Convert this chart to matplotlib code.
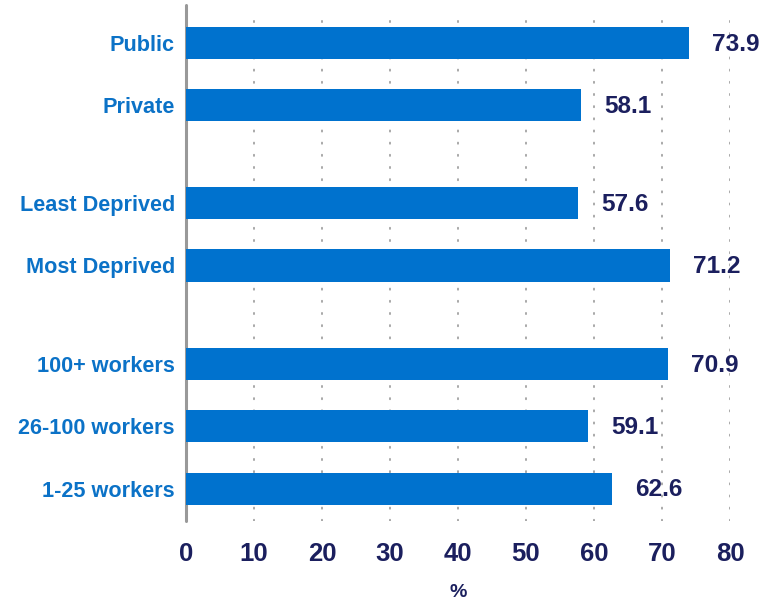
import matplotlib
matplotlib.use('Agg')
import matplotlib.pyplot as plt

categories = ['Public', 'Private', 'Least Deprived', 'Most Deprived',
              '100+ workers', '26-100 workers', '1-25 workers']
values = [73.9, 58.1, 57.6, 71.2, 70.9, 59.1, 62.6]
xticks = [0, 10, 20, 30, 40, 50, 60, 70, 80]

# bar rows, with wider gaps between the three groups
ypos = [0, 1, 2.58, 3.59, 5.18, 6.18, 7.19]

bar_col = '#0072CE'
label_col = '#0B72C7'
navy = '#1B1F5E'
plt.rcParams['font.family'] = ['Liberation Sans', 'DejaVu Sans']

fig = plt.figure(figsize=(7.6, 6.02), dpi=100)
ax = fig.add_axes([186/760, 1 - 521/602, 544/760, 516/602])

ax.barh(ypos, values, height=0.52, color=bar_col, zorder=3)
for y, v in zip(ypos, values):
    ax.text(v + 3.4, y + 0.02, f'{v:.1f}', va='center', ha='left',
            fontsize=17.6, fontweight='bold', color=navy)

ax.set_xlim(0, 80)
ax.set_ylim(7.71, -0.61)
ax.set_xticks(xticks)
ax.set_xticklabels([str(t) for t in xticks], fontsize=18.5,
                   fontweight='bold', color=navy)
ax.set_yticks(ypos)
ax.set_yticklabels(categories, fontsize=15.6, fontweight='bold', color=label_col)
ax.tick_params(axis='both', length=0)
ax.tick_params(axis='x', pad=15)
ax.tick_params(axis='y', pad=8)

for t in xticks[1:]:
    ax.axvline(t, ymin=0, ymax=0.985, color='#999999', linewidth=1.2,
               linestyle=(0, (0.8, 6.5)), dash_capstyle='round', zorder=1)

for s in ['top', 'right', 'bottom']:
    ax.spines[s].set_visible(False)
ax.spines['left'].set_color('#999999')
ax.spines['left'].set_linewidth(2.2)
ax.spines['left'].set_capstyle('round')

ax.set_xlabel('%', fontsize=14, fontweight='bold', color=navy, labelpad=13)

fig.savefig('out.png', dpi=100)
